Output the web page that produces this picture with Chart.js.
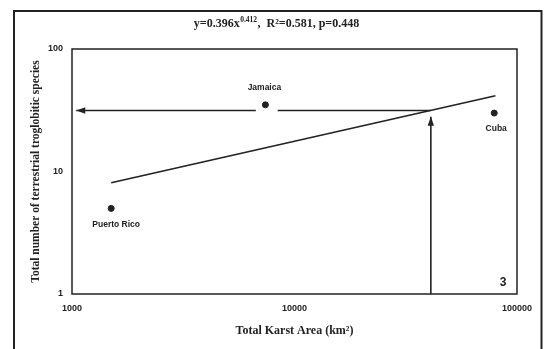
<!DOCTYPE html>
<html><head><meta charset="utf-8">
<script src="https://cdn.jsdelivr.net/npm/chart.js@4"></script>
<style>html,body{margin:0;padding:0;background:#fff}#wrap{width:546px;height:349px}</style>
</head><body><div id="wrap"><canvas id="c" width="546" height="349"></canvas></div>
<script>
// ---- data ----
const islands = ["Puerto Rico", "Jamaica", "Cuba"];
const karstArea = [1500, 7400, 79000];
const species = [5, 35, 30];
const fitX = [1500, 80000];
const fitY = [8.1, 41.5];
const readX = [41000, 41000];
const readY = [1, 28];
const backX = [41000, 8400, 7500, 6700, 1045];
const backY = [31.5, 31.5, null, 31.5, 31.5];
const xTicks = [1000, 10000, 100000];
const yTicks = [1, 10, 100];
const titleMain = "y=0.396x";
const titleSup = "0.412";
const titleRest = ",  R\u00b2=0.581, p=0.448";
const panelNo = "3";

const INK = '#222';
const pts = (xs, ys) => xs.map((x, i) => ({x: x, y: ys[i]}));

const framePlugin = {
  id: 'frame',
  beforeDraw(chart) {
    const ctx = chart.ctx, a = chart.chartArea;
    ctx.save();
    ctx.fillStyle = '#fff';
    ctx.fillRect(0, 0, chart.width, chart.height);
    ctx.strokeStyle = INK;
    ctx.lineWidth = 2;
    ctx.strokeRect(14, 11, 527.5, 350);
    ctx.lineWidth = 1.5;
    ctx.strokeRect(a.left, a.top, a.right - a.left, a.bottom - a.top);
    ctx.restore();
  },
  afterDraw(chart) {
    const ctx = chart.ctx, a = chart.chartArea;
    const xs = chart.scales.x, ys = chart.scales.y;
    ctx.save();
    // title with superscript
    ctx.fillStyle = INK;
    ctx.textBaseline = 'alphabetic';
    const f1 = 'bold 12px "Liberation Serif"', f2 = 'bold 7.5px "Liberation Serif"';
    ctx.font = f1; const w1 = ctx.measureText(titleMain).width, w3 = ctx.measureText(titleRest).width;
    ctx.font = f2; const w2 = ctx.measureText(titleSup).width;
    let x0 = 276 - (w1 + w2 + w3) / 2; const y0 = 27;
    ctx.font = f1; ctx.fillText(titleMain, x0, y0);
    ctx.font = f2; ctx.fillText(titleSup, x0 + w1 + 0.5, y0 - 5.5);
    ctx.font = f1; ctx.fillText(titleRest, x0 + w1 + w2 + 1, y0);
    // point labels
    ctx.font = 'bold 8.5px "Liberation Sans"';
    ctx.textAlign = 'center';
    ctx.textBaseline = 'middle';
    const offs = [[5, 16], [-1, -17], [2, 16]];
    islands.forEach((n, i) => {
      const px = xs.getPixelForValue(karstArea[i]), py = ys.getPixelForValue(species[i]);
      ctx.fillText(n, px + offs[i][0], py + offs[i][1]);
    });
    // panel number
    ctx.font = 'bold 12px "Liberation Sans"';
    ctx.fillText(panelNo, a.right - 14, a.bottom - 11);
    // arrowheads
    chart.data.datasets.forEach(ds => {
      if (!ds.arrow) return;
      const d = ds.data.filter(p => p.y !== null);
      const p1 = d[d.length - 2], p2 = d[d.length - 1];
      const x1 = xs.getPixelForValue(p1.x), y1 = ys.getPixelForValue(p1.y);
      const x2 = xs.getPixelForValue(p2.x), y2 = ys.getPixelForValue(p2.y);
      const ang = Math.atan2(y2 - y1, x2 - x1);
      const L = 9, W = 3.2;
      ctx.beginPath();
      ctx.moveTo(x2, y2);
      ctx.lineTo(x2 - L * Math.cos(ang) + W * Math.sin(ang), y2 - L * Math.sin(ang) - W * Math.cos(ang));
      ctx.lineTo(x2 - L * Math.cos(ang) - W * Math.sin(ang), y2 - L * Math.sin(ang) + W * Math.cos(ang));
      ctx.closePath();
      ctx.fillStyle = INK;
      ctx.fill();
    });
    ctx.restore();
  }
};

new Chart(document.getElementById('c'), {
  type: 'scatter',
  data: {
    datasets: [
      {data: pts(karstArea, species), pointRadius: 3, pointBackgroundColor: INK, pointBorderColor: INK, showLine: false},
      {data: pts(fitX, fitY), showLine: true, borderColor: INK, borderWidth: 1.6, pointRadius: 0},
      {data: pts(readX, readY), showLine: true, borderColor: INK, borderWidth: 1.6, pointRadius: 0, arrow: true},
      {data: pts(backX, backY), showLine: true, spanGaps: false, borderColor: INK, borderWidth: 1.6, pointRadius: 0, arrow: true}
    ]
  },
  options: {
    responsive: false,
    animation: false,
    layout: {padding: {left: 0, right: 29, top: 49, bottom: 0}},
    plugins: {legend: {display: false}, tooltip: {enabled: false}, title: {display: false}},
    scales: {
      x: {
        type: 'logarithmic', min: 1000, max: 100000,
        afterFit(s) { s.height = 55; },
        afterBuildTicks(s) { s.ticks = xTicks.map(v => ({value: v})); },
        grid: {display: false, drawTicks: false},
        border: {display: false},
        ticks: {color: INK, font: {family: 'Liberation Sans', size: 9, weight: 'bold'}, padding: 9, maxRotation: 0, autoSkip: false, callback: v => String(v)},
        title: {display: true, text: 'Total Karst Area (km\u00b2)', color: INK, font: {family: 'Liberation Serif', size: 12, weight: 'bold'}, padding: {top: 0, bottom: 11}}
      },
      y: {
        type: 'logarithmic', min: 1, max: 100,
        afterFit(s) { s.width = 72; },
        afterBuildTicks(s) { s.ticks = yTicks.map(v => ({value: v})); },
        grid: {display: false, drawTicks: false},
        border: {display: false},
        ticks: {color: INK, font: {family: 'Liberation Sans', size: 9, weight: 'bold'}, padding: 9, autoSkip: false, callback: v => String(v)},
        title: {display: true, text: 'Total number of terrestrial troglobitic species', color: INK, font: {family: 'Liberation Serif', size: 11.5, weight: 'bold'}, padding: {top: 29, bottom: 0}}
      }
    }
  },
  plugins: [framePlugin]
});
</script></body></html>
